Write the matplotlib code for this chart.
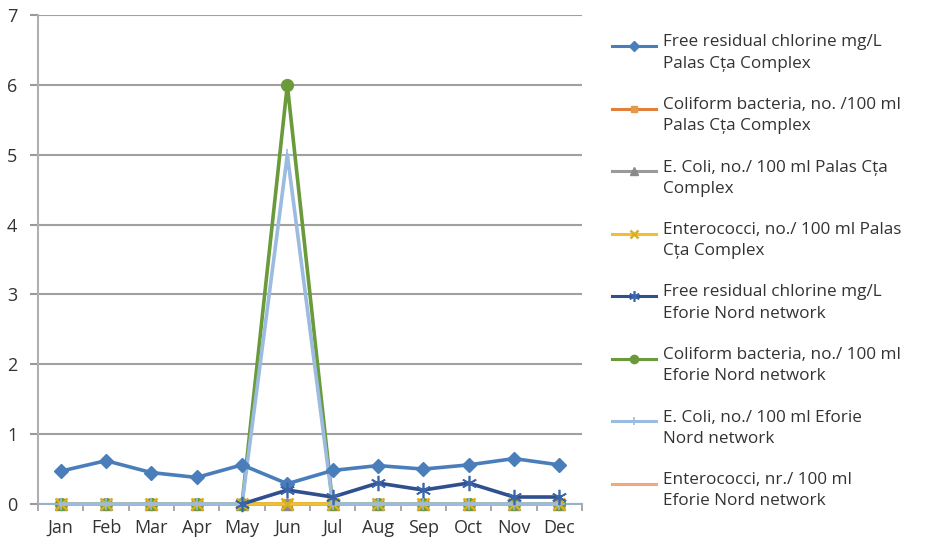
import numpy as np
import matplotlib
matplotlib.use("Agg")
import matplotlib.pyplot as plt
from matplotlib.lines import Line2D

plt.rcParams['font.family'] = ['Open Sans', 'DejaVu Sans']

months = ["Jan", "Feb", "Mar", "Apr", "May", "Jun", "Jul", "Aug", "Sep", "Oct", "Nov", "Dec"]

chlorine_palas = [0.47, 0.62, 0.45, 0.38, 0.56, 0.29, 0.48, 0.55, 0.50, 0.56, 0.65, 0.56]
coliform_palas = [0, 0, 0, 0, 0, 0, 0, 0, 0, 0, 0, 0]
ecoli_palas = [0, 0, 0, 0, 0, 0, 0, 0, 0, 0, 0, 0]
entero_palas = [0, 0, 0, 0, 0, 0, 0, 0, 0, 0, 0, 0]
chlorine_eforie = [np.nan, np.nan, np.nan, np.nan, 0, 0.2, 0.1, 0.3, 0.2, 0.3, 0.1, 0.1]
coliform_eforie = [0, 0, 0, 0, 0, 6, 0, 0, 0, 0, 0, 0]
ecoli_eforie = [0, 0, 0, 0, 0, 5, 0, 0, 0, 0, 0, 0]
entero_eforie = [0, 0, 0, 0, 0, 0, 0, 0, 0, 0, 0, 0]

labels = [
    "Free residual chlorine mg/L\nPalas Cța Complex",
    "Coliform bacteria, no. /100 ml\nPalas Cța Complex",
    "E. Coli, no./ 100 ml Palas Cța\nComplex",
    "Enterococci, no./ 100 ml Palas\nCța Complex",
    "Free residual chlorine mg/L\nEforie Nord network",
    "Coliform bacteria, no./ 100 ml\nEforie Nord network",
    "E. Coli, no./ 100 ml Eforie\nNord network",
    "Enterococci, nr./ 100 ml\nEforie Nord network",
]

W, H = 925, 547
fig = plt.figure(figsize=(W / 100, H / 100), dpi=100)
ax = fig.add_axes([38 / W, 1 - 504 / H, (582 - 38) / W, (504 - 15) / H])

x = np.arange(len(months))

styles = [
    dict(color="#4a7ebb", marker="D", ms=7, mfc="#4a7ebb", mec="#4a7ebb"),
    dict(color="#e0803c", marker="s", ms=7, mfc="#e69848", mec="#e69848"),
    dict(color="#9a9a9a", marker="^", ms=8, mfc="#8a8a8a", mec="#8a8a8a"),
    dict(color="#f0c030", marker="x", ms=8, mfc="#d8b020", mec="#d8b020", mew=1.8),
    dict(color="#2f4f8f", marker=(6, 2, 0), ms=11, mec="#3c64a8", mew=1.2),
    dict(color="#6a9a3a", marker="o", ms=8.5, mfc="#6a9a3a", mec="#6a9a3a"),
    dict(color="#9bbbe0", marker="+", ms=9, mec="#9bbbe0", mew=1.2),
    dict(color="#f0a880"),
]
values = [chlorine_palas, coliform_palas, ecoli_palas, entero_palas,
          chlorine_eforie, coliform_eforie, ecoli_eforie, entero_eforie]
z_order = [4, 3, 3.1, 3.4, 5, 3.3, 3.6, 2]

for vals, style, z in zip(values, styles, z_order):
    ax.plot(x, vals, lw=2.6, zorder=z, clip_on=False, **style)

ax.set_xlim(-0.5, len(months) - 0.5)
ax.set_ylim(0, 7)
ax.set_yticks(range(0, 8))
ax.set_xticks(x)
ax.set_xticklabels(months)
ax.set_xticks(np.arange(-0.5, len(months)), minor=True)
ax.tick_params(axis="x", which="major", length=0, pad=11, labelsize=13, labelcolor="#333333")
ax.tick_params(axis="x", which="minor", length=5, color="#9a9a9a", direction="out", width=1.2)
ax.tick_params(axis="y", length=6, color="#9a9a9a", width=1.5, labelsize=13,
               labelcolor="#333333", pad=9)

ax.grid(axis="y", color="#a0a0a0", lw=1.5, zorder=0)
ax.set_axisbelow(True)
for s in ["top", "right"]:
    ax.spines[s].set_visible(False)
ax.spines["left"].set_color("#b0b0b0")
ax.spines["left"].set_linewidth(1.5)
ax.spines["bottom"].set_color("#9ab0c8")
ax.spines["bottom"].set_linewidth(1.5)

# Legend: handle aligned with the first line of each two-line entry
y0, step = 46, 62.5
for i, (lab, style) in enumerate(zip(labels, styles)):
    yc = 1 - (y0 + i * step) / H
    st = dict(style)
    ms = st.pop("ms", None)
    marker = st.pop("marker", None)
    mfc = st.pop("mfc", st["color"])
    mec = st.pop("mec", st["color"])
    mew = st.pop("mew", 1.0)
    fig.add_artist(Line2D([612 / W, 656 / W], [yc, yc], transform=fig.transFigure,
                          lw=2.2, color=st["color"]))
    if marker is not None:
        fig.add_artist(Line2D([634 / W], [yc], transform=fig.transFigure, lw=0,
                              marker=marker, ms=ms * 0.7, mfc=mfc, mec=mec, mew=mew))
    fig.text(663 / W, yc + 11.5 / H, lab, fontsize=12.3, color="#333333",
             va="top", ha="left", linespacing=1.45)

fig.savefig("out.png", dpi=100)
